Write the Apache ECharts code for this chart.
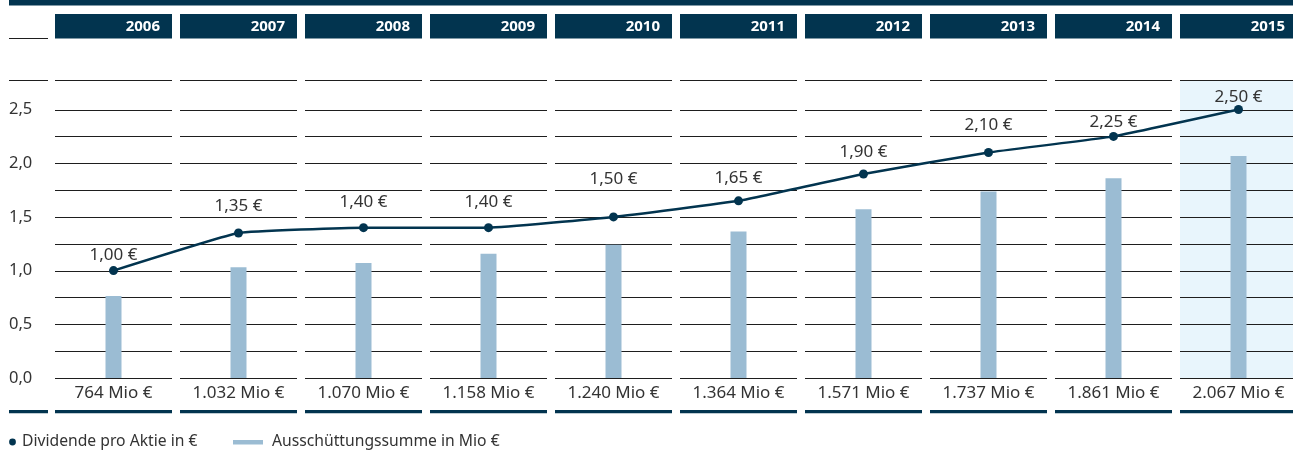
<!DOCTYPE html>
<html>
<head>
    <meta charset="utf-8">
    <title>Dividende</title>
    <script src="https://cdn.jsdelivr.net/npm/echarts@6/dist/echarts.min.js"></script>
    <style>
        html, body { margin: 0; padding: 0; background: #fff; overflow: hidden; }
    </style>
</head>
<body>
<!-- etwas breiter als das Fenster: die letzte Spalte wird rechts angeschnitten -->
<div id="main" style="width: 1310px;height:453px;"></div>
<script type="text/javascript">

    /* Daten ===================================== */
    var years = ['2006', '2007', '2008', '2009', '2010', '2011', '2012', '2013', '2014', '2015'];
    var dividend = [1.00, 1.35, 1.40, 1.40, 1.50, 1.65, 1.90, 2.10, 2.25, 2.50];
    var payout = [764, 1032, 1070, 1158, 1240, 1364, 1571, 1737, 1861, 2067];
    var gridSteps = [0, 0.25, 0.5, 0.75, 1, 1.25, 1.5, 1.75, 2, 2.25, 2.5, 2.775];

    // Abstand der Beschriftung über dem Punkt (px), wie im Original von Hand gesetzt
    var labelLift = [15, 27, 26, 26, 38, 23, 22, 27, 14, 12];

    var navy = '#02344f';
    var textColor = '#333333';
    var yMax = 2.775;
    var font = '"Noto Sans", "Open Sans", sans-serif';

    function de(n, digits) {
        return n.toFixed(digits).replace('.', ',');
    }
    function thousands(n) {
        return String(n).replace(/\B(?=(\d{3})+(?!\d))/g, '.');
    }

    var myChart = echarts.init(document.getElementById('main'));

    // Spalten: Kopf, Rasterlinien, Markierung 2015, Fusslinie
    function renderColumn(params, api) {
        var idx = api.value(0);
        var p0 = api.coord([idx, 0]);
        var cx = p0[0];
        var y0 = p0[1];
        var yTop = api.coord([idx, yMax])[1];
        var half = 58.5;
        var children = [];
        if (idx === years.length - 1) {
            children.push({
                type: 'rect',
                shape: {x: cx - half, y: yTop, width: half * 2 + 10, height: y0 - yTop},
                style: {fill: '#e8f5fc'}
            });
        }
        gridSteps.forEach(function (v) {
            var y = Math.round(api.coord([idx, v])[1]) + 0.5;
            children.push({
                type: 'line',
                shape: {x1: cx - half, y1: y, x2: cx + half, y2: y},
                style: {stroke: '#1e1e1e', lineWidth: 1}
            });
        });
        children.push({
            type: 'rect',
            shape: {x: cx - half, y: yTop - 66, width: half * 2, height: 24.5},
            style: {fill: navy}
        });
        children.push({
            type: 'text',
            style: {
                text: years[idx], x: cx + half - 12, y: yTop - 53.5,
                align: 'right', verticalAlign: 'middle',
                fill: '#ffffff', font: 'bold 15px ' + font
            }
        });
        children.push({
            type: 'rect',
            shape: {x: cx - half, y: y0 + 32, width: half * 2, height: 3.3},
            style: {fill: navy}
        });
        return {type: 'group', children: children};
    }

    myChart.setOption({
        animation: false,
        textStyle: {fontFamily: font},
        grid: {left: 51, right: 9, top: 80, bottom: 75},
        xAxis: {
            type: 'category',
            data: years,
            axisLine: {show: false},
            axisTick: {show: false},
            axisLabel: {
                margin: 7,
                fontSize: 17,
                color: textColor,
                formatter: function (v, i) {
                    return thousands(payout[i]) + ' Mio €';
                }
            }
        },
        yAxis: [
            {
                type: 'value',
                min: 0,
                max: yMax,
                interval: 0.5,
                splitLine: {show: false},
                axisLine: {show: false},
                axisTick: {show: false},
                axisLabel: {
                    align: 'left',
                    margin: 42,
                    fontSize: 16.5,
                    color: textColor,
                    showMaxLabel: false,
                    formatter: function (v) {
                        return v > 2.5 ? '' : de(v, 1);
                    }
                }
            },
            {
                type: 'value',
                min: 0,
                max: yMax * 1000,
                show: false
            }
        ],
        graphic: [
            {type: 'rect', shape: {x: 9, y: 0, width: 1300, height: 5.5}, style: {fill: navy}},
            {type: 'rect', shape: {x: 9, y: 38, width: 39, height: 1}, style: {fill: '#1e1e1e'}},
            {type: 'rect', shape: {x: 9, y: 80, width: 39, height: 1}, style: {fill: '#1e1e1e'}},
            {type: 'rect', shape: {x: 9, y: 410, width: 39, height: 3.3}, style: {fill: navy}},
            {type: 'circle', shape: {cx: 12.5, cy: 442, r: 3.4}, style: {fill: navy}},
            {
                type: 'text', x: 22, y: 442,
                style: {text: 'Dividende pro Aktie in €', fill: textColor, font: '15.7px ' + font, verticalAlign: 'middle'}
            },
            {type: 'rect', shape: {x: 233, y: 440, width: 30, height: 4.5}, style: {fill: '#9bbcd3'}},
            {
                type: 'text', x: 272, y: 442,
                style: {text: 'Ausschüttungssumme in Mio €', fill: textColor, font: '15.7px ' + font, verticalAlign: 'middle'}
            }
        ],
        series: [
            {
                type: 'custom',
                name: 'Spalten',
                z: 1,
                clip: false,
                silent: true,
                renderItem: renderColumn,
                data: years.map(function (y, i) { return [i, 0]; })
            },
            {
                type: 'bar',
                name: 'Ausschüttungssumme in Mio €',
                yAxisIndex: 1,
                z: 2,
                barWidth: 16,
                itemStyle: {color: '#9bbcd3'},
                data: payout
            },
            {
                type: 'line',
                name: 'Dividende pro Aktie in €',
                z: 3,
                smooth: 0.1,
                symbol: 'circle',
                symbolSize: 9,
                lineStyle: {color: navy, width: 2.5},
                itemStyle: {color: navy},
                label: {
                    show: true,
                    position: 'inside',
                    fontSize: 17,
                    color: textColor,
                    formatter: function (p) {
                        return de(p.value, 2) + ' €';
                    }
                },
                data: dividend.map(function (v, i) {
                    return {value: v, label: {offset: [0, -labelLift[i]]}};
                })
            }
        ]
    });

</script>
</body>
</html>
